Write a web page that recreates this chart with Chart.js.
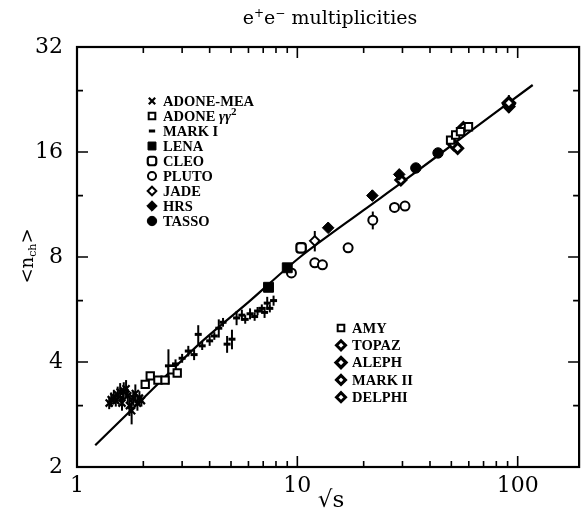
<!DOCTYPE html>
<html>
<head>
<meta charset="utf-8">
<script src="https://cdn.jsdelivr.net/npm/chart.js@4.4.0/dist/chart.umd.min.js"></script>
<style>
  html, body { margin: 0; padding: 0; background: #fff; }
  #wrap { width: 588px; height: 516px; position: relative; }
</style>
</head>
<body>
<div id="wrap"><canvas id="c" width="588" height="516"></canvas></div>
<script>
// ---- tick positions ----
const xTickLabels = [1, 10, 100];
const yTickLabels = [2, 4, 8, 16, 32];
const xMajorTicks = [10, 100];
const xMinorTicks = [2, 3, 4, 5, 6, 7, 8, 9, 20, 30, 40, 50, 60, 70, 80, 90];
const yMajorTicks = [4, 8, 16];
const yMinorTicks = [3, 6, 12, 24];

// ---- measurements: sqrt(s) [GeV], <n_ch>, error ----
const adoneMeaE   = [1.40, 1.43, 1.47, 1.50, 1.53, 1.57, 1.60, 1.63, 1.67, 1.70, 1.73, 1.77, 1.80, 1.84, 1.88, 1.92, 1.96];
const adoneMeaN   = [3.05, 3.12, 3.18, 3.10, 3.22, 3.28, 3.05, 3.30, 3.35, 3.20, 3.00, 2.90, 3.15, 3.25, 3.05, 3.15, 3.10];
const adoneMeaErr = [0.12, 0.15, 0.15, 0.12, 0.18, 0.20, 0.15, 0.20, 0.20, 0.15, 0.20, 0.25, 0.15, 0.20, 0.15, 0.15, 0.12];

const adoneGgE   = [2.04, 2.15, 2.33, 2.51, 2.70, 2.85];
const adoneGgN   = [3.45, 3.65, 3.55, 3.55, 3.80, 3.72];

const mark1E   = [2.6, 2.8, 3.0, 3.2, 3.4, 3.55, 3.7, 4.0, 4.2, 4.4, 4.6, 4.8, 5.05, 5.3, 5.6, 5.8, 6.1, 6.4, 6.6, 6.9, 7.1, 7.3, 7.5, 7.8];
const mark1N   = [3.9, 3.95, 4.1, 4.3, 4.2, 4.8, 4.45, 4.6, 4.75, 5.0, 5.2, 4.5, 4.65, 5.35, 5.45, 5.3, 5.5, 5.4, 5.6, 5.7, 5.55, 5.9, 5.7, 6.0];
const mark1Err = [0.45, 0.12, 0.12, 0.15, 0.15, 0.30, 0.12, 0.15, 0.12, 0.30, 0.15, 0.25, 0.30, 0.25, 0.20, 0.15, 0.20, 0.15, 0.15, 0.15, 0.20, 0.25, 0.15, 0.20];

const lenaE = [7.4, 9.0];
const lenaN = [6.55, 7.45];

const cleoE = [10.4];
const cleoN = [8.5];

const plutoE   = [9.4, 12.0, 13.0, 17.0, 22.0, 27.6, 30.8];
const plutoN   = [7.2, 7.7, 7.6, 8.5, 10.2, 11.1, 11.2];
const plutoErr = [0, 0, 0, 0, 0.6, 0, 0];

const jadeE   = [12.0];
const jadeN   = [8.9];
const jadeErr = [0.6];

const hrsE   = [13.8, 21.9, 29.0];
const hrsN   = [9.7, 12.0, 13.8];
const hrsErr = [0, 0.4, 0.4];

const tassoE = [34.5, 43.5];
const tassoN = [14.4, 15.9];

const amyE = [49.6, 52.3, 55.0, 59.8];
const amyN = [17.3, 17.9, 18.3, 18.9];

const topazE = [51.2, 53.4, 56.7];
const topazN = [16.8, 16.4, 18.8];

const alephE = [91.2];
const alephN = [22.1];
const alephErr = [1.2];

const mark2E = [29.5, 91.2];
const mark2N = [13.3, 21.6];
const mark2Err = [0.5, 0.9];

const delphiE = [91.2];
const delphiN = [21.9];
const delphiErr = [0.6];

// ---- fitted curve ----
const fitE = [1.21, 2.0, 3.62, 6.0, 10.3, 20, 29.4, 60, 117];
const fitN = [2.31, 3.15, 4.53, 5.94, 8.0, 10.9, 13.0, 18.2, 24.9];

const serif = '"DejaVu Serif", "Liberation Serif", serif';
const legendFont = '"Liberation Serif", "DejaVu Serif", serif';

function pts(E, N) { return E.map((e, i) => ({ x: e, y: N[i] })); }

function series(label, E, N, errs, style) {
  return Object.assign({
    label, data: pts(E, N), errs: errs || null, showLine: false,
    pointBorderColor: '#000', pointHoverRadius: 0
  }, style);
}

const OPEN = '#fff', FILL = '#000';

const styles = {
  adoneMea: { pointStyle: 'crossRot', pointRadius: 5, pointBorderWidth: 2.2, pointBackgroundColor: FILL },
  adoneGg:  { pointStyle: 'rect', pointRadius: 5.2, pointBorderWidth: 2, pointBackgroundColor: OPEN },
  mark1:    { pointStyle: 'line', pointRadius: 3.5, pointBorderWidth: 3, pointBackgroundColor: FILL },
  lena:     { pointStyle: 'rect', pointRadius: 7, pointBorderWidth: 1, pointBackgroundColor: FILL },
  cleo:     { pointStyle: 'rectRounded', pointRadius: 5.5, pointBorderWidth: 2.2, pointBackgroundColor: OPEN },
  pluto:    { pointStyle: 'circle', pointRadius: 4.5, pointBorderWidth: 2, pointBackgroundColor: OPEN },
  jade:     { pointStyle: 'rectRot', pointRadius: 4.8, pointBorderWidth: 2, pointBackgroundColor: OPEN },
  hrs:      { pointStyle: 'rectRot', pointRadius: 5.8, pointBorderWidth: 1, pointBackgroundColor: FILL },
  tasso:    { pointStyle: 'circle', pointRadius: 5.2, pointBorderWidth: 1, pointBackgroundColor: FILL },
  amy:      { pointStyle: 'rect', pointRadius: 5.2, pointBorderWidth: 2, pointBackgroundColor: OPEN },
  topaz:    { pointStyle: 'rectRot', pointRadius: 5, pointBorderWidth: 3, pointBackgroundColor: OPEN },
  aleph:    { pointStyle: 'rectRot', pointRadius: 5.5, pointBorderWidth: 3.4, pointBackgroundColor: OPEN },
  mark2:    { pointStyle: 'rectRot', pointRadius: 5, pointBorderWidth: 3, pointBackgroundColor: OPEN },
  delphi:   { pointStyle: 'rectRot', pointRadius: 5, pointBorderWidth: 3, pointBackgroundColor: OPEN }
};

const datasets = [
  {
    label: 'fit', data: pts(fitE, fitN), showLine: true, pointRadius: 0,
    borderColor: '#000', borderWidth: 2.2, tension: 0.3, order: 10
  },
  series('ADONE-MEA', adoneMeaE, adoneMeaN, adoneMeaErr, styles.adoneMea),
  series('ADONE gg2', adoneGgE, adoneGgN, null, styles.adoneGg),
  series('MARK I', mark1E, mark1N, mark1Err, styles.mark1),
  series('LENA', lenaE, lenaN, null, styles.lena),
  series('CLEO', cleoE, cleoN, null, styles.cleo),
  series('PLUTO', plutoE, plutoN, plutoErr, styles.pluto),
  series('JADE', jadeE, jadeN, jadeErr, styles.jade),
  series('HRS', hrsE, hrsN, hrsErr, styles.hrs),
  series('TASSO', tassoE, tassoN, null, styles.tasso),
  series('AMY', amyE, amyN, null, styles.amy),
  series('TOPAZ', topazE, topazN, null, styles.topaz),
  series('ALEPH', alephE, alephN, alephErr, styles.aleph),
  series('MARK II', mark2E, mark2N, mark2Err, styles.mark2),
  series('DELPHI', delphiE, delphiN, delphiErr, styles.delphi)
];

// legend rows: [style key, label pieces]
const legendLeft = [
  ['adoneMea', [['ADONE-MEA', 'b']]],
  ['adoneGg', [['ADONE ', 'b'], ['\u03b3\u03b3', 'i'], ['2', 'sup']]],
  ['mark1', [['MARK I', 'b']]],
  ['lena', [['LENA', 'b']]],
  ['cleo', [['CLEO', 'b']]],
  ['pluto', [['PLUTO', 'b']]],
  ['jade', [['JADE', 'b']]],
  ['hrs', [['HRS', 'b']]],
  ['tasso', [['TASSO', 'b']]]
];
const legendRight = [
  ['amy', [['AMY', 'b']]],
  ['topaz', [['TOPAZ', 'b']]],
  ['aleph', [['ALEPH', 'b']]],
  ['mark2', [['MARK II', 'b']]],
  ['delphi', [['DELPHI', 'b']]]
];

function drawMarker(ctx, st, x, y, scale) {
  ctx.save();
  ctx.fillStyle = st.pointBackgroundColor;
  ctx.strokeStyle = '#000';
  ctx.lineWidth = st.pointBorderWidth;
  Chart.helpers.drawPoint(ctx, {
    pointStyle: st.pointStyle, rotation: 0,
    radius: st.pointRadius * (scale || 1), borderWidth: st.pointBorderWidth
  }, x, y);
  ctx.restore();
}

function drawPieces(ctx, pieces, x, y) {
  for (const [txt, kind] of pieces) {
    if (kind === 'b') ctx.font = 'bold 14.5px ' + legendFont;
    else if (kind === 'i') ctx.font = 'bold italic 14.5px ' + legendFont;
    else ctx.font = 'bold 11px ' + legendFont;
    const dy = kind === 'sup' ? -5 : 0;
    ctx.fillText(txt, x, y + dy);
    x += ctx.measureText(txt).width;
  }
}

const errorBars = {
  id: 'errorBars',
  beforeDatasetsDraw(chart) {
    const { ctx, scales: { x, y } } = chart;
    ctx.save();
    ctx.strokeStyle = '#000';
    ctx.lineWidth = 2;
    chart.data.datasets.forEach(ds => {
      if (!ds.errs) return;
      ds.data.forEach((p, i) => {
        const e = ds.errs[i];
        if (!e) return;
        const px = x.getPixelForValue(p.x);
        ctx.beginPath();
        ctx.moveTo(px, y.getPixelForValue(p.y - e));
        ctx.lineTo(px, y.getPixelForValue(p.y + e));
        ctx.stroke();
      });
    });
    ctx.restore();
  }
};

const decor = {
  id: 'decor',
  afterDraw(chart) {
    const { ctx, chartArea: a, scales: { x, y } } = chart;
    ctx.save();
    ctx.strokeStyle = '#000';
    ctx.fillStyle = '#000';

    // inward tick marks on all four sides
    ctx.lineWidth = 1.6;
    const tx = (v, len) => {
      const px = x.getPixelForValue(v);
      ctx.beginPath();
      ctx.moveTo(px, a.bottom); ctx.lineTo(px, a.bottom - len);
      ctx.moveTo(px, a.top); ctx.lineTo(px, a.top + len);
      ctx.stroke();
    };
    const ty = (v, len) => {
      const py = y.getPixelForValue(v);
      ctx.beginPath();
      ctx.moveTo(a.left, py); ctx.lineTo(a.left + len, py);
      ctx.moveTo(a.right, py); ctx.lineTo(a.right - len, py);
      ctx.stroke();
    };
    xMajorTicks.forEach(v => tx(v, 11));
    xMinorTicks.forEach(v => tx(v, 6));
    yMajorTicks.forEach(v => ty(v, 11));
    yMinorTicks.forEach(v => ty(v, 6));

    // frame
    ctx.lineWidth = 2.2;
    ctx.strokeRect(a.left, a.top, a.right - a.left, a.bottom - a.top);

    // title with superscript charges
    ctx.textBaseline = 'alphabetic';
    ctx.textAlign = 'left';
    const big = '19px ' + serif, small = '12px ' + serif;
    const parts = [['e', big, 0], ['+', small, -7], ['e', big, 0], ['\u2212', small, -7], [' multiplicities', big, 0]];
    let w = 0;
    parts.forEach(([t, f]) => { ctx.font = f; w += ctx.measureText(t).width; });
    let cx = 330 - w / 2;
    parts.forEach(([t, f, dy]) => { ctx.font = f; ctx.fillText(t, cx, 24 + dy); cx += ctx.measureText(t).width; });

    // x-axis title
    ctx.font = '23px ' + serif;
    ctx.textAlign = 'center';
    ctx.fillText('\u221as', (a.left + a.right) / 2 + 3, 507);

    // y-axis title, rotated
    ctx.save();
    ctx.translate(27, 256);
    ctx.rotate(-Math.PI / 2);
    ctx.textAlign = 'left';
    const yparts = [['<n', '18px ' + serif, 0], ['ch', '11px ' + serif, 3], ['>', '18px ' + serif, 0]];
    let yw = 0;
    yparts.forEach(([t, f]) => { ctx.font = f; yw += ctx.measureText(t).width; });
    let yx = -yw / 2;
    yparts.forEach(([t, f, dy]) => { ctx.font = f; ctx.fillText(t, yx, 6 + dy); yx += ctx.measureText(t).width; });
    ctx.restore();

    // legends
    ctx.textAlign = 'left';
    ctx.textBaseline = 'middle';
    legendLeft.forEach(([k, pieces], i) => {
      const ly = 101 + i * 15;
      drawMarker(ctx, styles[k], 152, ly, k === 'lena' ? 0.8 : 0.9);
      drawPieces(ctx, pieces, 163, ly + 1);
    });
    legendRight.forEach(([k, pieces], i) => {
      const ly = 328 + i * 17.3;
      drawMarker(ctx, styles[k], 341, ly, 0.9);
      drawPieces(ctx, pieces, 352, ly + 1);
    });
    ctx.restore();
  }
};

new Chart(document.getElementById('c'), {
  type: 'scatter',
  data: { datasets },
  options: {
    responsive: false,
    animation: false,
    devicePixelRatio: 1,
    events: [],
    layout: { padding: { left: 0, top: 47, right: 4, bottom: 0 } },
    plugins: { legend: { display: false }, tooltip: { enabled: false } },
    scales: {
      x: {
        type: 'logarithmic', min: 1, max: 190,
        grid: { display: false }, border: { display: false },
        afterBuildTicks: s => { s.ticks = xTickLabels.map(v => ({ value: v })); },
        afterFit: s => { s.height = 49; },
        ticks: {
          autoSkip: false, maxRotation: 0, padding: -2, color: '#000',
          font: { family: serif, size: 22 },
          callback: v => String(v)
        }
      },
      y: {
        type: 'logarithmic', min: 2, max: 32,
        grid: { display: false }, border: { display: false },
        afterBuildTicks: s => { s.ticks = yTickLabels.map(v => ({ value: v })); },
        afterFit: s => { s.width = 77; },
        ticks: {
          autoSkip: false, padding: 6, color: '#000',
          font: { family: serif, size: 22 },
          callback: v => String(v)
        }
      }
    }
  },
  plugins: [errorBars, decor]
});
</script>
</body>
</html>
